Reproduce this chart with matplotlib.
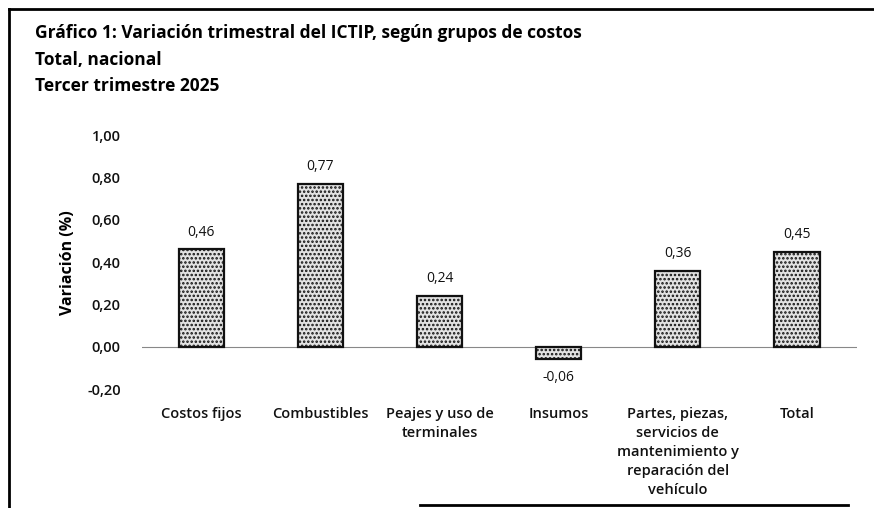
import matplotlib.pyplot as plt
from matplotlib.lines import Line2D

# Data
categories = ['Costos fijos', 'Combustibles', 'Peajes y uso de\nterminales', 'Insumos',
              'Partes, piezas,\nservicios de\nmantenimiento y\nreparación del\nvehículo', 'Total']
values = [0.46, 0.77, 0.24, -0.06, 0.36, 0.45]
labels = ['0,46', '0,77', '0,24', '-0,06', '0,36', '0,45']
yticks = [-0.2, 0.0, 0.2, 0.4, 0.6, 0.8, 1.0]

plt.rcParams['font.family'] = ['Open Sans', 'DejaVu Sans']
plt.rcParams['hatch.color'] = '#444444'
plt.rcParams['hatch.linewidth'] = 1.2

fig = plt.figure(figsize=(8.74, 5.08), dpi=100)
ax = fig.add_axes([0.162, 0.234, 0.818, 0.50])

x = list(range(len(values)))
bars = ax.bar(x, values, width=0.38, color='#e2e2e2', edgecolor='#111111',
              linewidth=1.6, hatch='....')

# value labels
for xi, v, lab in zip(x, values, labels):
    if v >= 0:
        ax.text(xi, v + 0.045, lab, ha='center', va='bottom', fontsize=10, color='#111111')
    else:
        ax.text(xi, v - 0.05, lab, ha='center', va='top', fontsize=10, color='#111111')

ax.axhline(0, color='#888888', lw=0.8, zorder=0)
ax.set_xlim(-0.5, len(values) - 0.5)
ax.set_ylim(-0.2, 1.0)
ax.set_yticks(yticks)
ax.set_yticklabels(['{:.2f}'.format(t).replace('.', ',') for t in yticks],
                   fontsize=10.5, fontweight='semibold')
ax.set_xticks(x)
ax.set_xticklabels(categories, fontsize=10.5, fontweight='semibold', linespacing=1.45, va='top')
ax.tick_params(axis='both', length=0, colors='#111111')
ax.tick_params(axis='y', pad=15)
ax.tick_params(axis='x', pad=13)
for s in ax.spines.values():
    s.set_visible(False)
ax.set_ylabel('Variación (%)', fontsize=11.5, fontweight='bold', labelpad=8)

# titles
fig.text(0.040, 0.935, 'Gráfico 1: Variación trimestral del ICTIP, según grupos de costos',
         fontsize=12.5, fontweight='bold', va='center')
fig.text(0.040, 0.882, 'Total, nacional', fontsize=12.5, fontweight='bold', va='center')
fig.text(0.040, 0.830, 'Tercer trimestre 2025', fontsize=12.5, fontweight='bold', va='center')

# scan frame
fig.add_artist(Line2D([0.010, 0.010], [0.0, 0.982], color='black', lw=2))
fig.add_artist(Line2D([0.010, 1.0], [0.982, 0.982], color='black', lw=2))
fig.add_artist(Line2D([0.48, 0.97], [0.006, 0.006], color='black', lw=2))

fig.savefig('out.png', dpi=100)
